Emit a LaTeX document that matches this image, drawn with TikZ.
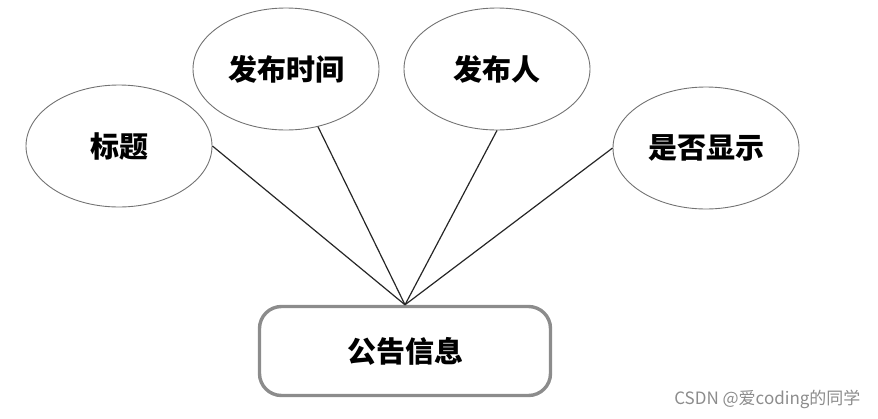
\documentclass[tikz,border=0pt]{standalone}
\usepackage{fontspec}
\newfontfamily\cjk{Noto Sans CJK SC}
\usetikzlibrary{shapes.geometric}
\tikzset{
  attr/.style={ellipse,draw=black!55,line width=0.9pt,minimum width=186pt,
    minimum height=122pt,inner sep=0pt,font=\cjk\bfseries\fontsize{29}{32}\selectfont},
  entity/.style={rectangle,rounded corners=22pt,draw=black!45,line width=3.4pt,
    minimum width=291pt,minimum height=89pt,font=\cjk\bfseries\fontsize{29}{32}\selectfont},
  link/.style={black!85,line width=1.2pt}
}
\begin{document}
\begin{tikzpicture}[x=1pt,y=-1pt]
  \useasboundingbox (0,0) rectangle (878,418);
  % attributes
  \node[attr] (title)  at (119,146) {标题};
  \node[attr] (time)   at (286,69)  {发布时间};
  \node[attr] (person) at (497,69)  {发布人};
  \node[attr] (show)   at (706,148) {是否显示};
  % entity
  \node[entity] (notice) at (405,351) {公告信息};
  \draw[link] (title.east) -- (notice.north);
  \draw[link] (time.-61) -- (notice.north);
  \draw[link] (person.south) -- (notice.north);
  \draw[link] (show.west) -- (notice.north);
  % watermark
  \node[anchor=east,text=black!45,font=\cjk\fontsize{17}{19}\selectfont] (mark) at (864,399) {CSDN @爱coding的同学};
\end{tikzpicture}
\end{document}
